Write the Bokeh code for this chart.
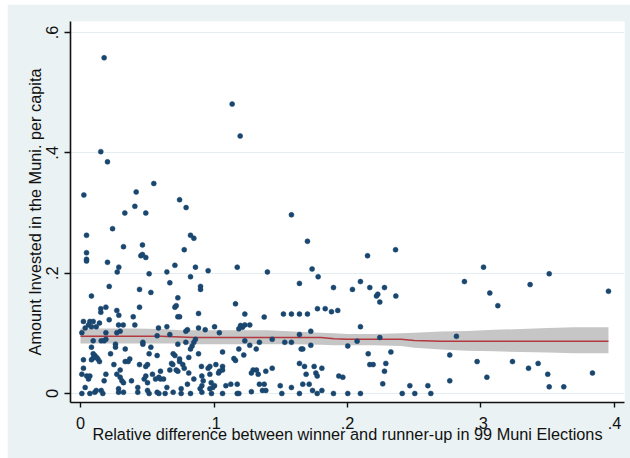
from bokeh.plotting import figure
from bokeh.models import FixedTicker
from bokeh.embed import file_html
from bokeh.resources import INLINE

# Relative winning margin in the 1999 municipal elections (x) and
# amount invested per capita in the municipality (y)
margin_share = [
    0.0177, 0.1136, 0.1196, 0.0152, 0.0202, 0.0025, 0.0549, 0.0417, 0.0742, 0.0791,
    0.0407, 0.0332, 0.0489, 0.158, 0.024,
    0.0045, 0.0824, 0.0849, 0.0464, 0.0322, 0.0777, 0.0045, 0.0452, 0.0464, 0.0489,
    0.0045, 0.0045, 0.0202, 0.0287, 0.0275, 0.0514, 0.0647, 0.0707, 0.0861, 0.0956, 0.0824,
    0.170, 0.1174, 0.140, 0.1735, 0.178, 0.215,
    0.236, 0.2097, 0.1895, 0.2037, 0.2167, 0.2277, 0.2217, 0.2227, 0.2242, 0.2362,
    0.1775, 0.1833, 0.188, 0.1927, 0.2097, 0.2242, 0.2072, 0.2002, 0.2325, 0.2155,
    0.2167, 0.2192, 0.2287, 0.2277, 0.1808, 0.1935, 0.1965, 0.2264, 0.1808, 0.1895,
    0.2002, 0.2097, 0.241, 0.2504, 0.2624, 0.2467, 0.2602, 0.2766, 0.2766, 0.2816,
    0.2876, 0.3019, 0.3066, 0.3126, 0.2971, 0.3044, 0.3236, 0.3368, 0.3356, 0.3428,
    0.3511, 0.350, 0.3511, 0.362, 0.3835, 0.3955,
    0.164, 0.1161, 0.1231, 0.1376, 0.152, 0.158, 0.164, 0.170, 0.1199, 0.1186,
    0.1213, 0.1231, 0.1268, 0.104, 0.1725, 0.164, 0.1231, 0.1436, 0.153, 0.158,
    0.134, 0.1268, 0.1316, 0.1186, 0.1064, 0.1223, 0.1149, 0.1161, 0.1653, 0.1665,
    0.1725, 0.164, 0.1678, 0.175, 0.169, 0.1763, 0.1773, 0.1436, 0.1388, 0.1293,
    0.1318, 0.128, 0.1331, 0.1064, 0.1041, 0.1064, 0.1034, 0.1089, 0.1126, 0.1174,
    0.134, 0.1376, 0.1363, 0.1388, 0.1496, 0.158, 0.1665, 0.1713, 0.1738, 0.1064,
    0.1174, 0.1186, 0.128, 0.1508, 0.164, 0.1773,
    0.0669, 0.0215, 0.0442, 0.0527, 0.0899, 0.0899, 0.0729, 0.0082, 0.0152, 0.0152,
    0.019, 0.0272, 0.0442, 0.0707, 0.0717, 0.0287, 0.0729, 0.0742, 0.0884, 0.0215,
    0.0022, 0.007, 0.0095, 0.0142, 0.006, 0.0082, 0.0118, 0.0035,
    0.0285, 0.032, 0.0395, 0.0407, 0.001, 0.0297, 0.0272, 0.019, 0.0584, 0.0647,
    0.0574, 0.0801, 0.0789, 0.0884, 0.0934, 0.1004, 0.0669,
    0.0095, 0.0155, 0.0177, 0.019, 0.0262, 0.0262, 0.0335, 0.0467, 0.0467, 0.0527,
    0.0729, 0.0789, 0.0861, 0.0849, 0.0836, 0.0824, 0.0082, 0.0225,
    0.0095, 0.0107, 0.012, 0.0095, 0.0082, 0.013, 0.0142, 0.0022, 0.0335, 0.0357,
    0.0369, 0.0514, 0.0574, 0.0694, 0.0707, 0.0742, 0.0811, 0.0884,
    0.0022, 0.025, 0.0297, 0.0442, 0.0489, 0.0502, 0.0599, 0.0682, 0.0691, 0.0742,
    0.0766, 0.0777, 0.0717, 0.0729, 0.0906, 0.0956, 0.0969, 0.1014,
    0.001, 0.0047, 0.007, 0.006, 0.019, 0.0177, 0.0272, 0.0297, 0.031, 0.0322,
    0.0382, 0.0489, 0.0477, 0.0502, 0.0539, 0.0562, 0.0587, 0.0599, 0.0622, 0.0669,
    0.0801, 0.0811, 0.0849, 0.0909, 0.0919, 0.0909, 0.0969, 0.0979, 0.0991, 0.1004,
    0.0035, 0.0107, 0.0118, 0.0155, 0.0167, 0.001, 0.007, 0.0285, 0.0285, 0.0322,
    0.0429, 0.0429, 0.0502, 0.0514, 0.0574, 0.0587, 0.0647, 0.0634, 0.0694, 0.0754,
    0.0754, 0.0824, 0.0896, 0.0909, 0.0969, 0.0981,
]
invest_pc = [
    0.558, 0.481, 0.428, 0.402, 0.385, 0.330, 0.349, 0.335, 0.322, 0.309,
    0.311, 0.300, 0.300, 0.297, 0.274,
    0.263, 0.263, 0.258, 0.247, 0.244, 0.239, 0.234, 0.229, 0.231, 0.226,
    0.223, 0.220, 0.218, 0.210, 0.202, 0.199, 0.202, 0.213, 0.210, 0.204, 0.194,
    0.253, 0.210, 0.202, 0.207, 0.194, 0.229,
    0.239, 0.186, 0.176, 0.173, 0.176, 0.176, 0.162, 0.165, 0.152, 0.162,
    0.141, 0.141, 0.136, 0.138, 0.111, 0.093, 0.087, 0.079, 0.069, 0.066,
    0.048, 0.048, 0.050, 0.037, 0.042, 0.029, 0.027, 0.016, 0.005, 0.0,
    0.0, 0.0, 0.0, 0.0, 0.0, 0.013, 0.013, 0.021, 0.064, 0.095,
    0.186, 0.210, 0.167, 0.146, 0.053, 0.027, 0.053, 0.181, 0.042, 0.050,
    0.199, 0.032, 0.011, 0.011, 0.034, 0.170,
    0.183, 0.149, 0.132, 0.127, 0.132, 0.132, 0.132, 0.132, 0.113, 0.1075,
    0.110, 0.114, 0.114, 0.101, 0.1035, 0.098, 0.0875, 0.090, 0.085, 0.085,
    0.085, 0.080, 0.074, 0.074, 0.069, 0.064, 0.058, 0.055, 0.074, 0.074,
    0.080, 0.050, 0.045, 0.045, 0.032, 0.034, 0.029, 0.042, 0.037, 0.039,
    0.039, 0.034, 0.032, 0.045, 0.037, 0.039, 0.034, 0.013, 0.0155, 0.0155,
    0.0155, 0.0155, 0.005, 0.005, 0.013, 0.010, 0.0155, 0.0155, 0.005, 0.0,
    0.0, 0.0, 0.003, 0.0, 0.0, 0.0,
    0.184, 0.178, 0.173, 0.168, 0.178, 0.173, 0.159, 0.162, 0.141, 0.135,
    0.1435, 0.138, 0.1435, 0.1435, 0.146, 0.130, 0.1275, 0.1275, 0.133, 0.1225,
    0.1197, 0.1197, 0.1197, 0.117, 0.114, 0.111, 0.111, 0.109,
    0.114, 0.114, 0.1275, 0.114, 0.101, 0.1035, 0.101, 0.101, 0.109, 0.111,
    0.096, 0.106, 0.1035, 0.109, 0.106, 0.111, 0.098,
    0.0875, 0.0875, 0.0875, 0.090, 0.082, 0.077, 0.074, 0.085, 0.082, 0.077,
    0.082, 0.085, 0.090, 0.085, 0.079, 0.074, 0.077, 0.066,
    0.066, 0.063, 0.060, 0.059, 0.056, 0.0575, 0.053, 0.056, 0.053, 0.053,
    0.0575, 0.066, 0.063, 0.066, 0.063, 0.0575, 0.060, 0.066,
    0.042, 0.048, 0.039, 0.048, 0.045, 0.048, 0.037, 0.050, 0.048, 0.053,
    0.048, 0.042, 0.039, 0.037, 0.045, 0.042, 0.045, 0.048,
    0.032, 0.029, 0.029, 0.024, 0.032, 0.021, 0.032, 0.027, 0.021, 0.018,
    0.021, 0.029, 0.024, 0.018, 0.032, 0.024, 0.027, 0.024, 0.024, 0.039,
    0.0155, 0.034, 0.024, 0.029, 0.021, 0.013, 0.032, 0.018, 0.010, 0.013,
    0.010, 0.002, 0.005, 0.005, 0.0, 0.0, 0.0, 0.008, 0.002, 0.002,
    0.010, 0.002, 0.005, 0.0, 0.002, 0.0, 0.010, 0.0, 0.002, 0.008,
    0.0, 0.0, 0.008, 0.002, 0.008, 0.0,
]

# Local polynomial fit with its 95% confidence band
fit_grid = [0.0, 0.02, 0.04, 0.06, 0.075, 0.085, 0.10, 0.12, 0.14, 0.16, 0.18,
            0.19, 0.20, 0.22, 0.24, 0.25, 0.27, 0.29, 0.31, 0.33, 0.35, 0.37, 0.3955]
fit_mid = [0.095, 0.095, 0.095, 0.095, 0.094, 0.093, 0.093, 0.093, 0.093, 0.093, 0.093,
           0.091, 0.090, 0.090, 0.090, 0.088, 0.087, 0.087, 0.087, 0.087, 0.087, 0.087, 0.087]
fit_hi = [0.108, 0.108, 0.108, 0.107, 0.105, 0.105, 0.105, 0.105, 0.105, 0.103, 0.101,
          0.100, 0.099, 0.099, 0.100, 0.101, 0.103, 0.104, 0.106, 0.107, 0.109, 0.110, 0.110]
fit_lo = [0.083, 0.083, 0.083, 0.083, 0.083, 0.082, 0.082, 0.082, 0.082, 0.082, 0.081,
          0.080, 0.080, 0.080, 0.079, 0.076, 0.073, 0.071, 0.070, 0.069, 0.068, 0.067, 0.067]

x_ticks = [0.0, 0.1, 0.2, 0.3, 0.4]
x_tick_labels = ["0", ".1", ".2", ".3", ".4"]
y_ticks = [0.0, 0.2, 0.4, 0.6]
y_tick_labels = ["0", ".2", ".4", ".6"]

FONT = "Liberation Sans"
INK = "#111111"

p = figure(
    width=623, height=454,
    x_range=(-0.0075, 0.4075), y_range=(-0.015, 0.6183),
    output_backend="svg", toolbar_location=None,
    min_border_left=63, min_border_right=6, min_border_top=17, min_border_bottom=56,
    background_fill_color="white", border_fill_color="#eaf2f3",
)
p.margin = (4, 0, 0, 7)
p.outline_line_color = None

p.varea(x=fit_grid, y1=fit_lo, y2=fit_hi, fill_color="#c6c6c6", fill_alpha=1.0)
p.line(fit_grid, fit_mid, line_color="#b3383f", line_width=1.5)
p.scatter(margin_share, invest_pc, size=5, fill_color="#1a476f", line_color="#1a476f",
          line_width=0.5)

p.xgrid.visible = False
p.ygrid.ticker = FixedTicker(ticks=y_ticks)
p.ygrid.grid_line_color = "#e4eef0"
p.ygrid.grid_line_width = 1

for ax in (p.xaxis[0], p.yaxis[0]):
    ax.axis_line_color = INK
    ax.axis_line_width = 1.6
    ax.major_tick_line_color = INK
    ax.major_tick_line_width = 1.4
    ax.major_tick_in = 0
    ax.minor_tick_line_color = None
    ax.major_label_text_font = FONT
    ax.major_label_text_font_size = "16.3px"
    ax.major_label_text_color = INK
    ax.axis_label_text_font = FONT
    ax.axis_label_text_font_size = "16.3px"
    ax.axis_label_text_font_style = "normal"
    ax.axis_label_text_color = INK

p.xaxis.ticker = FixedTicker(ticks=x_ticks)
p.xaxis.major_label_overrides = dict(zip(x_ticks, x_tick_labels))
p.xaxis.major_tick_out = 5
p.xaxis.major_label_standoff = 9
p.xaxis.axis_label = "Relative difference between winner and runner-up in 99 Muni Elections"
p.xaxis.axis_label_standoff = -7

p.yaxis.ticker = FixedTicker(ticks=y_ticks)
p.yaxis.major_label_overrides = dict(zip(y_ticks, y_tick_labels))
p.yaxis.major_label_orientation = "vertical"
p.yaxis.major_tick_out = 6
p.yaxis.major_label_standoff = 6
p.yaxis.axis_label = "Amount Invested in the Muni. per capita"
p.yaxis.axis_label_standoff = 0

open("out.html", "w").write(file_html(p, INLINE))
